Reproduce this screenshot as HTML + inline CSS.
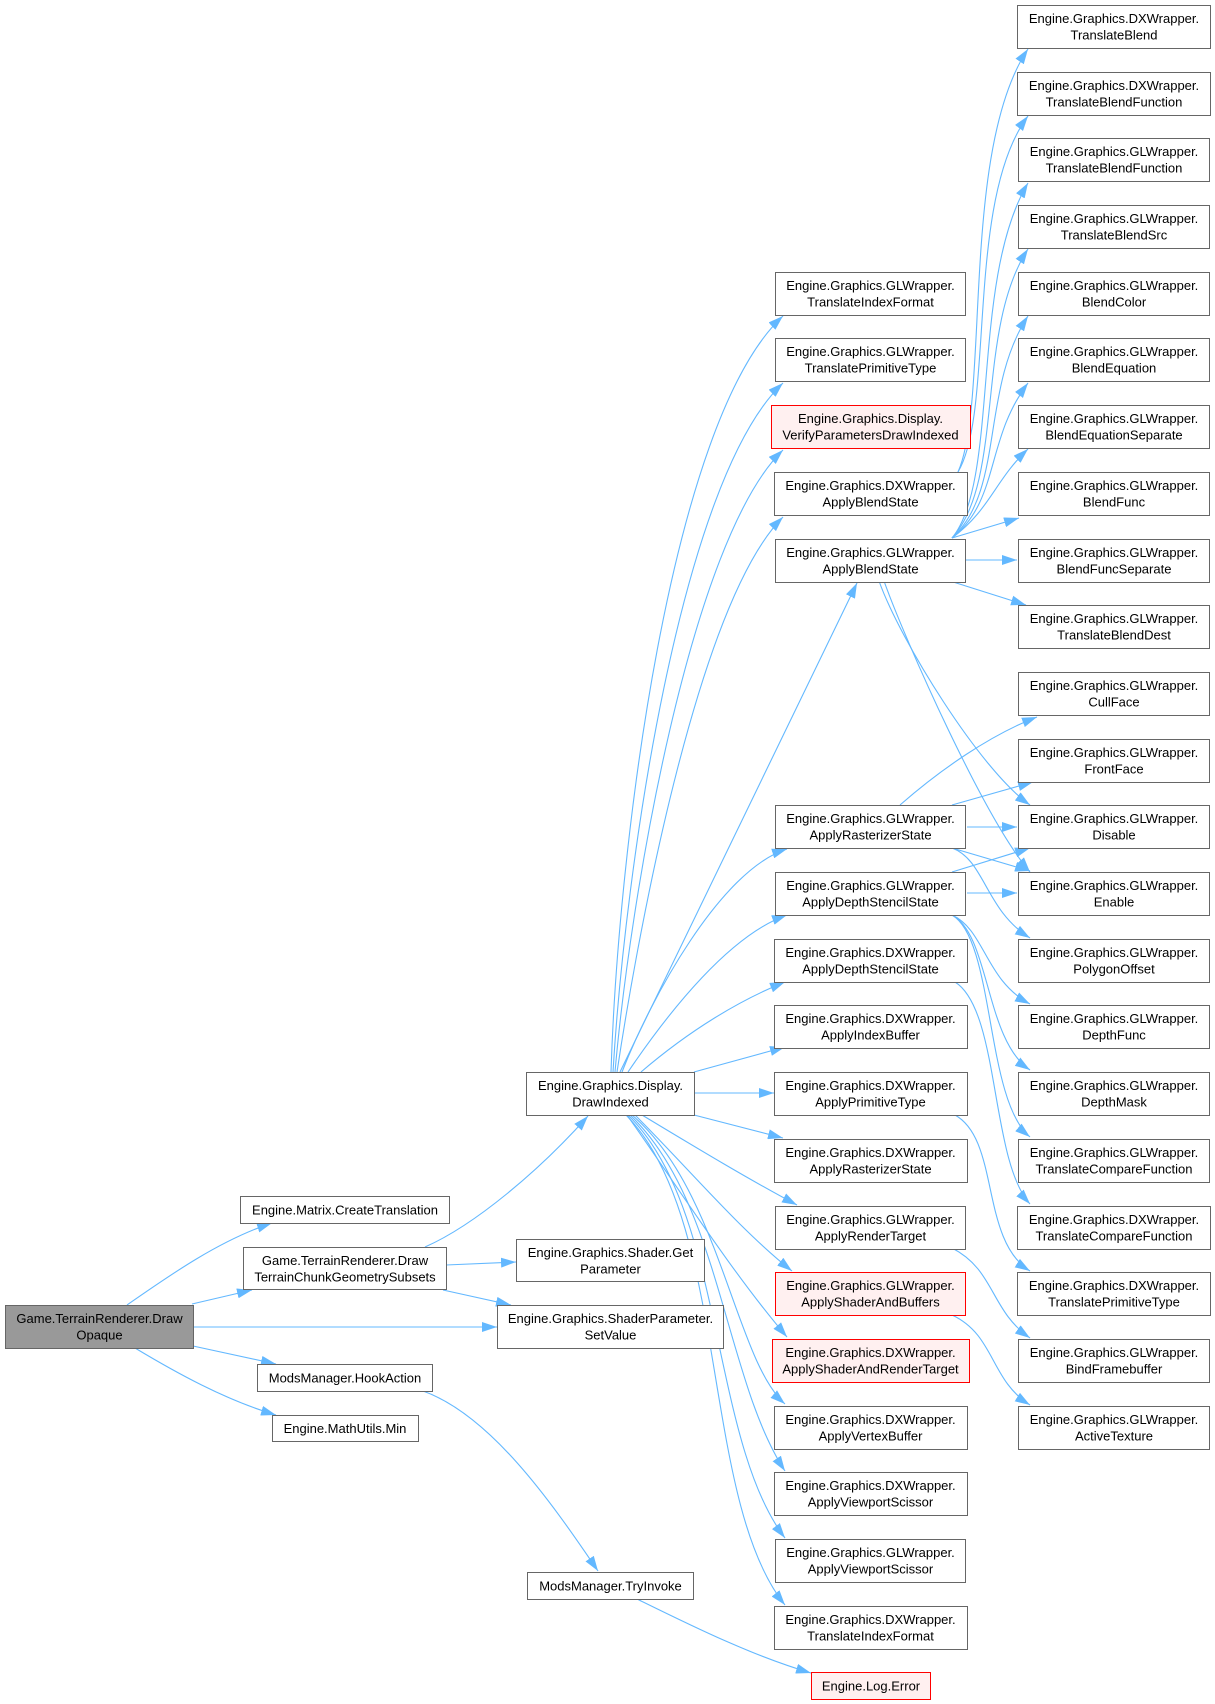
<!DOCTYPE html>
<html>
<head>
<meta charset="utf-8">
<style>
html,body{margin:0;padding:0;background:#fff;}
svg{display:block;}
text{font-family:"Liberation Sans",Arial,sans-serif;font-size:13px;fill:#000;text-anchor:middle;}
.n{fill:#fff;stroke:#666;stroke-width:1;}
.r{fill:#fff0f0;stroke:#ff0000;stroke-width:1;}
.g{fill:#999;stroke:#666;stroke-width:1;}
.e{fill:none;stroke:#63b8ff;stroke-width:1.1;}
</style>
</head>
<body>
<svg width="1215" height="1704" viewBox="0 0 1215 1704" xmlns="http://www.w3.org/2000/svg">
<defs>
<marker id="a" markerWidth="15" markerHeight="10" refX="15" refY="5" orient="auto" markerUnits="userSpaceOnUse">
<path d="M0,0 L15,5 L0,10 z" fill="#63b8ff"/>
</marker>
</defs>

<!-- ===== EDGES ===== -->
<g class="e" marker-end="url(#a)">
<!-- root -->
<path class="e" marker-end="url(#a)" d="M127,1305 C170,1275 220,1240 272,1223"/>
<path class="e" marker-end="url(#a)" d="M192,1304 L252,1290"/>
<path class="e" marker-end="url(#a)" d="M193,1327 L497,1327"/>
<path class="e" marker-end="url(#a)" d="M193,1346 L276,1364"/>
<path class="e" marker-end="url(#a)" d="M135,1348 C175,1372 225,1400 276,1415"/>
<!-- DrawTerrainChunk -->
<path class="e" marker-end="url(#a)" d="M425,1247 C475,1225 540,1170 588,1116"/>
<path class="e" marker-end="url(#a)" d="M446,1265 L516,1262"/>
<path class="e" marker-end="url(#a)" d="M443,1290 L511,1305"/>
<!-- HookAction / TryInvoke -->
<path class="e" marker-end="url(#a)" d="M423,1391 C490,1415 550,1500 598,1571"/>
<path class="e" marker-end="url(#a)" d="M637,1599 C690,1625 750,1655 811,1673"/>
<!-- DrawIndexed upward -->
<path class="e" marker-end="url(#a)" d="M611,1072 C618,850 670,420 783,316"/>
<path class="e" marker-end="url(#a)" d="M613,1072 C625,870 680,480 783,383"/>
<path class="e" marker-end="url(#a)" d="M615,1072 C630,900 690,540 783,450"/>
<path class="e" marker-end="url(#a)" d="M617,1072 C640,920 700,600 783,517"/>
<path class="e" marker-end="url(#a)" d="M620,1072 L857,583"/>
<path class="e" marker-end="url(#a)" d="M622,1072 C650,1000 720,870 787,849"/>
<path class="e" marker-end="url(#a)" d="M628,1072 C670,1010 730,935 787,915"/>
<path class="e" marker-end="url(#a)" d="M641,1072 C690,1030 740,1000 785,982"/>
<path class="e" marker-end="url(#a)" d="M694,1072 L785,1047"/>
<path class="e" marker-end="url(#a)" d="M694,1093 L774,1093"/>
<path class="e" marker-end="url(#a)" d="M694,1115 L783,1138"/>
<!-- DrawIndexed downward -->
<path class="e" marker-end="url(#a)" d="M642,1115 C700,1150 750,1180 797,1205"/>
<path class="e" marker-end="url(#a)" d="M635,1115 C690,1170 740,1230 792,1271"/>
<path class="e" marker-end="url(#a)" d="M627,1115 C680,1190 730,1270 787,1337"/>
<path class="e" marker-end="url(#a)" d="M632,1115 C720,1190 735,1360 785,1404"/>
<path class="e" marker-end="url(#a)" d="M630,1115 C720,1200 725,1380 785,1471"/>
<path class="e" marker-end="url(#a)" d="M628,1115 C725,1210 710,1440 785,1538"/>
<path class="e" marker-end="url(#a)" d="M626,1115 C730,1220 700,1500 785,1605"/>
<!-- DX ApplyBlendState -->
<path class="e" marker-end="url(#a)" d="M958,472 C990,400 960,150 1028,49"/>
<path class="e" marker-end="url(#a)" d="M958,472 C995,410 965,200 1028,116"/>
<!-- GL ApplyBlendState fan -->
<path class="e" marker-end="url(#a)" d="M952,538 C1000,480 970,280 1028,183"/>
<path class="e" marker-end="url(#a)" d="M952,538 C1005,480 975,330 1028,249"/>
<path class="e" marker-end="url(#a)" d="M952,538 C1005,490 980,390 1028,316"/>
<path class="e" marker-end="url(#a)" d="M952,538 C1000,500 985,440 1028,383"/>
<path class="e" marker-end="url(#a)" d="M952,538 C990,510 995,480 1028,449"/>
<path class="e" marker-end="url(#a)" d="M952,538 L1019,518"/>
<path class="e" marker-end="url(#a)" d="M965,560 L1017,560"/>
<path class="e" marker-end="url(#a)" d="M950,581 L1026,605"/>
<path class="e" marker-end="url(#a)" d="M879,581 C900,640 980,770 1030,805"/>
<path class="e" marker-end="url(#a)" d="M884,581 C905,640 985,820 1030,872"/>
<!-- GL ApplyRasterizerState -->
<path class="e" marker-end="url(#a)" d="M900,805 C940,770 990,735 1037,717"/>
<path class="e" marker-end="url(#a)" d="M952,805 L1033,782"/>
<path class="e" marker-end="url(#a)" d="M967,827 L1017,827"/>
<path class="e" marker-end="url(#a)" d="M952,848 L1030,871"/>
<path class="e" marker-end="url(#a)" d="M952,848 C985,860 985,910 1030,938"/>
<!-- GL ApplyDepthStencilState -->
<path class="e" marker-end="url(#a)" d="M952,872 L1030,848"/>
<path class="e" marker-end="url(#a)" d="M967,893 L1017,893"/>
<path class="e" marker-end="url(#a)" d="M952,915 C985,930 985,980 1030,1004"/>
<path class="e" marker-end="url(#a)" d="M952,915 C990,935 985,1040 1030,1070"/>
<path class="e" marker-end="url(#a)" d="M952,915 C995,940 985,1100 1030,1137"/>
<!-- others -->
<path class="e" marker-end="url(#a)" d="M955,982 C1000,1010 990,1160 1030,1204"/>
<path class="e" marker-end="url(#a)" d="M955,1115 C1000,1140 980,1240 1030,1271"/>
<path class="e" marker-end="url(#a)" d="M952,1248 C995,1270 990,1310 1030,1338"/>
<path class="e" marker-end="url(#a)" d="M952,1315 C995,1335 990,1380 1030,1405"/>
</g>

<!-- ===== NODES ===== -->
<!-- root -->
<rect class="g" x="5.5" y="1305.5" width="188" height="43"/>
<text x="99.5" y="1323">Game.TerrainRenderer.Draw</text>
<text x="99.5" y="1339.5">Opaque</text>

<!-- col 1 -->
<rect class="n" x="240.5" y="1196.5" width="209" height="27"/>
<text x="345" y="1214.5">Engine.Matrix.CreateTranslation</text>
<rect class="n" x="243.5" y="1247.5" width="203" height="42"/>
<text x="345" y="1265">Game.TerrainRenderer.Draw</text>
<text x="345" y="1281.5">TerrainChunkGeometrySubsets</text>
<rect class="n" x="257.5" y="1364.5" width="175" height="27"/>
<text x="345" y="1382.5">ModsManager.HookAction</text>
<rect class="n" x="272.5" y="1415.5" width="146" height="26"/>
<text x="345" y="1433">Engine.MathUtils.Min</text>

<!-- col 2 -->
<rect class="n" x="526.5" y="1072.5" width="168" height="43"/>
<text x="610.5" y="1090">Engine.Graphics.Display.</text>
<text x="610.5" y="1106.5">DrawIndexed</text>
<rect class="n" x="516.5" y="1239.5" width="188" height="42"/>
<text x="610.5" y="1257">Engine.Graphics.Shader.Get</text>
<text x="610.5" y="1273.5">Parameter</text>
<rect class="n" x="497.5" y="1305.5" width="226" height="43"/>
<text x="610.5" y="1323">Engine.Graphics.ShaderParameter.</text>
<text x="610.5" y="1339.5">SetValue</text>
<rect class="n" x="527.5" y="1572.5" width="166" height="27"/>
<text x="610.5" y="1590.5">ModsManager.TryInvoke</text>

<!-- col 3 -->
<rect class="n" x="775.5" y="272.5" width="190" height="43"/>
<text x="870.5" y="290">Engine.Graphics.GLWrapper.</text>
<text x="870.5" y="306.5">TranslateIndexFormat</text>
<rect class="n" x="775.5" y="338.5" width="190" height="43"/>
<text x="870.5" y="356">Engine.Graphics.GLWrapper.</text>
<text x="870.5" y="372.5">TranslatePrimitiveType</text>
<rect class="r" x="771.5" y="405.5" width="199" height="43"/>
<text x="870.5" y="423">Engine.Graphics.Display.</text>
<text x="870.5" y="439.5">VerifyParametersDrawIndexed</text>
<rect class="n" x="774.5" y="472.5" width="193" height="43"/>
<text x="870.5" y="490">Engine.Graphics.DXWrapper.</text>
<text x="870.5" y="506.5">ApplyBlendState</text>
<rect class="n" x="775.5" y="539.5" width="190" height="43"/>
<text x="870.5" y="557">Engine.Graphics.GLWrapper.</text>
<text x="870.5" y="573.5">ApplyBlendState</text>
<rect class="n" x="775.5" y="805.5" width="190" height="43"/>
<text x="870.5" y="823">Engine.Graphics.GLWrapper.</text>
<text x="870.5" y="839.5">ApplyRasterizerState</text>
<rect class="n" x="775.5" y="872.5" width="190" height="43"/>
<text x="870.5" y="890">Engine.Graphics.GLWrapper.</text>
<text x="870.5" y="906.5">ApplyDepthStencilState</text>
<rect class="n" x="774.5" y="939.5" width="193" height="43"/>
<text x="870.5" y="957">Engine.Graphics.DXWrapper.</text>
<text x="870.5" y="973.5">ApplyDepthStencilState</text>
<rect class="n" x="774.5" y="1005.5" width="193" height="43"/>
<text x="870.5" y="1023">Engine.Graphics.DXWrapper.</text>
<text x="870.5" y="1039.5">ApplyIndexBuffer</text>
<rect class="n" x="774.5" y="1072.5" width="193" height="43"/>
<text x="870.5" y="1090">Engine.Graphics.DXWrapper.</text>
<text x="870.5" y="1106.5">ApplyPrimitiveType</text>
<rect class="n" x="774.5" y="1139.5" width="193" height="43"/>
<text x="870.5" y="1157">Engine.Graphics.DXWrapper.</text>
<text x="870.5" y="1173.5">ApplyRasterizerState</text>
<rect class="n" x="775.5" y="1206.5" width="190" height="43"/>
<text x="870.5" y="1224">Engine.Graphics.GLWrapper.</text>
<text x="870.5" y="1240.5">ApplyRenderTarget</text>
<rect class="r" x="775.5" y="1272.5" width="190" height="43"/>
<text x="870.5" y="1290">Engine.Graphics.GLWrapper.</text>
<text x="870.5" y="1306.5">ApplyShaderAndBuffers</text>
<rect class="r" x="772.5" y="1339.5" width="197" height="43"/>
<text x="870.5" y="1357">Engine.Graphics.DXWrapper.</text>
<text x="870.5" y="1373.5">ApplyShaderAndRenderTarget</text>
<rect class="n" x="774.5" y="1406.5" width="193" height="43"/>
<text x="870.5" y="1424">Engine.Graphics.DXWrapper.</text>
<text x="870.5" y="1440.5">ApplyVertexBuffer</text>
<rect class="n" x="774.5" y="1472.5" width="193" height="43"/>
<text x="870.5" y="1490">Engine.Graphics.DXWrapper.</text>
<text x="870.5" y="1506.5">ApplyViewportScissor</text>
<rect class="n" x="775.5" y="1539.5" width="190" height="43"/>
<text x="870.5" y="1557">Engine.Graphics.GLWrapper.</text>
<text x="870.5" y="1573.5">ApplyViewportScissor</text>
<rect class="n" x="774.5" y="1606.5" width="193" height="43"/>
<text x="870.5" y="1624">Engine.Graphics.DXWrapper.</text>
<text x="870.5" y="1640.5">TranslateIndexFormat</text>
<rect class="r" x="811.5" y="1672.5" width="119" height="27"/>
<text x="871" y="1690.5">Engine.Log.Error</text>

<!-- col 4 -->
<rect class="n" x="1017.5" y="5.5" width="193" height="43"/>
<text x="1114" y="23">Engine.Graphics.DXWrapper.</text>
<text x="1114" y="39.5">TranslateBlend</text>
<rect class="n" x="1017.5" y="72.5" width="193" height="43"/>
<text x="1114" y="90">Engine.Graphics.DXWrapper.</text>
<text x="1114" y="106.5">TranslateBlendFunction</text>
<rect class="n" x="1018.5" y="138.5" width="191" height="43"/>
<text x="1114" y="156">Engine.Graphics.GLWrapper.</text>
<text x="1114" y="172.5">TranslateBlendFunction</text>
<rect class="n" x="1018.5" y="205.5" width="191" height="43"/>
<text x="1114" y="223">Engine.Graphics.GLWrapper.</text>
<text x="1114" y="239.5">TranslateBlendSrc</text>
<rect class="n" x="1018.5" y="272.5" width="191" height="43"/>
<text x="1114" y="290">Engine.Graphics.GLWrapper.</text>
<text x="1114" y="306.5">BlendColor</text>
<rect class="n" x="1018.5" y="338.5" width="191" height="43"/>
<text x="1114" y="356">Engine.Graphics.GLWrapper.</text>
<text x="1114" y="372.5">BlendEquation</text>
<rect class="n" x="1018.5" y="405.5" width="191" height="43"/>
<text x="1114" y="423">Engine.Graphics.GLWrapper.</text>
<text x="1114" y="439.5">BlendEquationSeparate</text>
<rect class="n" x="1018.5" y="472.5" width="191" height="43"/>
<text x="1114" y="490">Engine.Graphics.GLWrapper.</text>
<text x="1114" y="506.5">BlendFunc</text>
<rect class="n" x="1018.5" y="539.5" width="191" height="43"/>
<text x="1114" y="557">Engine.Graphics.GLWrapper.</text>
<text x="1114" y="573.5">BlendFuncSeparate</text>
<rect class="n" x="1018.5" y="605.5" width="191" height="43"/>
<text x="1114" y="623">Engine.Graphics.GLWrapper.</text>
<text x="1114" y="639.5">TranslateBlendDest</text>
<rect class="n" x="1018.5" y="672.5" width="191" height="43"/>
<text x="1114" y="690">Engine.Graphics.GLWrapper.</text>
<text x="1114" y="706.5">CullFace</text>
<rect class="n" x="1018.5" y="739.5" width="191" height="43"/>
<text x="1114" y="757">Engine.Graphics.GLWrapper.</text>
<text x="1114" y="773.5">FrontFace</text>
<rect class="n" x="1018.5" y="805.5" width="191" height="43"/>
<text x="1114" y="823">Engine.Graphics.GLWrapper.</text>
<text x="1114" y="839.5">Disable</text>
<rect class="n" x="1018.5" y="872.5" width="191" height="43"/>
<text x="1114" y="890">Engine.Graphics.GLWrapper.</text>
<text x="1114" y="906.5">Enable</text>
<rect class="n" x="1018.5" y="939.5" width="191" height="43"/>
<text x="1114" y="957">Engine.Graphics.GLWrapper.</text>
<text x="1114" y="973.5">PolygonOffset</text>
<rect class="n" x="1018.5" y="1005.5" width="191" height="43"/>
<text x="1114" y="1023">Engine.Graphics.GLWrapper.</text>
<text x="1114" y="1039.5">DepthFunc</text>
<rect class="n" x="1018.5" y="1072.5" width="191" height="43"/>
<text x="1114" y="1090">Engine.Graphics.GLWrapper.</text>
<text x="1114" y="1106.5">DepthMask</text>
<rect class="n" x="1018.5" y="1139.5" width="191" height="43"/>
<text x="1114" y="1157">Engine.Graphics.GLWrapper.</text>
<text x="1114" y="1173.5">TranslateCompareFunction</text>
<rect class="n" x="1017.5" y="1206.5" width="193" height="43"/>
<text x="1114" y="1224">Engine.Graphics.DXWrapper.</text>
<text x="1114" y="1240.5">TranslateCompareFunction</text>
<rect class="n" x="1017.5" y="1272.5" width="193" height="43"/>
<text x="1114" y="1290">Engine.Graphics.DXWrapper.</text>
<text x="1114" y="1306.5">TranslatePrimitiveType</text>
<rect class="n" x="1018.5" y="1339.5" width="191" height="43"/>
<text x="1114" y="1357">Engine.Graphics.GLWrapper.</text>
<text x="1114" y="1373.5">BindFramebuffer</text>
<rect class="n" x="1018.5" y="1406.5" width="191" height="43"/>
<text x="1114" y="1424">Engine.Graphics.GLWrapper.</text>
<text x="1114" y="1440.5">ActiveTexture</text>
</svg>
</body>
</html>
